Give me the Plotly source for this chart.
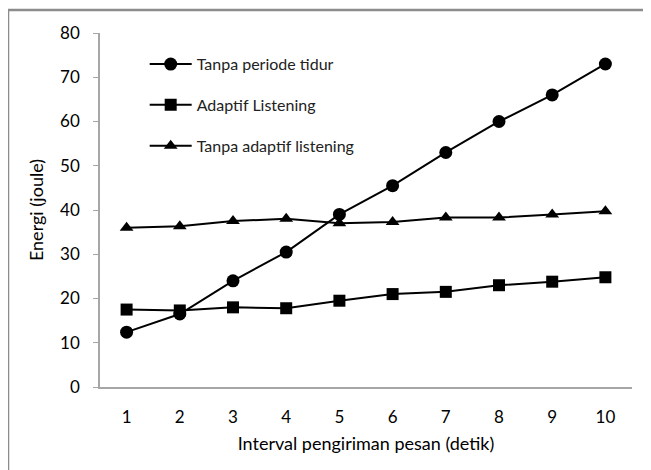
import plotly.graph_objects as go

x_vals = [1, 2, 3, 4, 5, 6, 7, 8, 9, 10]
tanpa_periode_tidur = [12.4, 16.5, 24.0, 30.5, 39.0, 45.5, 53.0, 60.0, 66.0, 73.0]
adaptif_listening = [17.5, 17.3, 18.0, 17.8, 19.5, 21.0, 21.5, 23.0, 23.8, 24.8]
tanpa_adaptif_listening = [36.0, 36.3, 37.5, 38.0, 37.0, 37.3, 38.3, 38.3, 39.0, 39.7]
y_ticks = [0, 10, 20, 30, 40, 50, 60, 70, 80]

FONT = "Lato"
fig = go.Figure()
series = [
    ("Tanpa periode tidur", tanpa_periode_tidur, "circle", 13),
    ("Adaptif Listening", adaptif_listening, "square", 12),
    ("Tanpa adaptif listening", tanpa_adaptif_listening, "triangle-up", 12),
]
for i, (name, ys, sym, sz) in enumerate(series):
    fig.add_trace(go.Scatter(
        x=x_vals, y=ys, name=name, mode="lines+markers",
        line=dict(color="black", width=2),
        marker=dict(symbol=sym, size=sz, color="black"),
        legendgroup=f"g{i}",
    ))

fig.update_layout(
    width=651, height=470,
    margin=dict(l=92, r=27, t=25, b=91),
    paper_bgcolor="white", plot_bgcolor="white",
    font=dict(family=FONT, size=16, color="black"),
    showlegend=True,
    legend=dict(x=0.084, y=0.96, xanchor="left", yanchor="top",
                bgcolor="rgba(0,0,0,0)", font=dict(family=FONT, size=16, color="#222"),
                tracegroupgap=17, itemwidth=42),
    xaxis=dict(range=[0.5, 10.5], tickvals=x_vals, ticks="", showgrid=False,
               showline=True, linecolor="#a6a6a6", linewidth=1.5, zeroline=False,
               ticklabelstandoff=14, tickfont=dict(size=17),
               title=dict(text="Interval pengiriman pesan (detik)", standoff=11,
                          font=dict(size=18))),
    yaxis=dict(range=[0, 80], tickvals=y_ticks, ticks="outside", ticklen=5,
               tickcolor="#a6a6a6", showgrid=False, showline=True,
               linecolor="#a6a6a6", linewidth=1.5, zeroline=False,
               ticklabelstandoff=10, tickfont=dict(size=17),
               title=dict(text="Energi (joule)", standoff=12, font=dict(size=18))),
)

# outer chart border (left and top edges visible)
fig.add_shape(type="line", xref="paper", yref="paper", x0=-0.1729, x1=1.1,
              y0=1.065, y1=1.065, line=dict(color="#8c8c8c", width=2.5))
fig.add_shape(type="line", xref="paper", yref="paper", x0=-0.1729, x1=-0.1729,
              y0=1.065, y1=-0.4, line=dict(color="#8c8c8c", width=2.5))

fig.write_html("out.html")
